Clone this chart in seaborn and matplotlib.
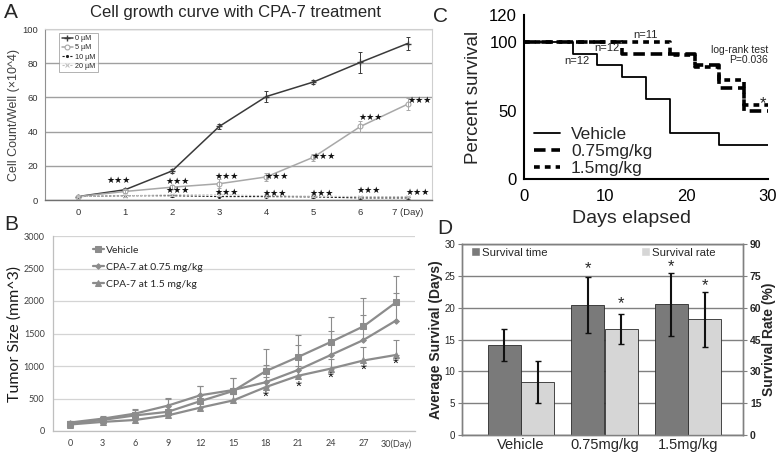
import matplotlib
matplotlib.use("Agg")
import matplotlib.pyplot as plt
import seaborn as sns
from matplotlib.patches import Patch

# ---------------- data ----------------
# A: cell growth (x10^4 cells / well)
days_a = [0, 1, 2, 3, 4, 5, 6, 7]
day_labels_a = ["0", "1", "2", "3", "4", "5", "6", "7 (Day)"]
dose_labels = ["0 µM", "5 µM", "10 µM", "20 µM"]
count_0 = [2, 6, 17, 43, 60.5, 69, 80.5, 91.5]
count_5 = [2, 5, 7.5, 9.5, 13.5, 25, 43, 56]
count_10 = [2, 2.5, 2.5, 2, 2, 1.8, 1.2, 1.2]
count_20 = [2, 2.5, 3, 3, 2.5, 2.2, 2, 2]
err_0 = [0.5, 0.8, 1, 1.5, 3, 1, 6, 4]
err_5 = [0.5, 0.8, 1, 2.5, 2.5, 2, 3, 3.5]
err_10 = [0.3, 0.5, 0.5, 0.5, 0.5, 0.5, 0.5, 0.5]
err_20 = [0.3, 0.5, 0.5, 0.5, 0.5, 0.5, 0.5, 0.5]
# significance marks (day, height)
sig_a_x = [0.87, 2.12, 3.16, 4.22, 5.22, 6.22, 7.26, 2.12, 3.16, 4.18, 5.18, 6.18, 7.22]
sig_a_y = [11.7, 11, 14, 14, 25.7, 48, 58.5, 5.3, 4.7, 4, 4, 5.3, 4.7]

# B: tumor size (mm^3)
days_b = [0, 3, 6, 9, 12, 15, 18, 21, 24, 27, 30]
day_labels_b = ["0", "3", "6", "9", "12", "15", "18", "21", "24", "27", "30(Day)"]
group_b = ["Vehicle", "CPA-7 at 0.75 mg/kg", "CPA-7 at 1.5 mg/kg"]
size_veh = [110, 170, 240, 295, 460, 615, 920, 1140, 1370, 1610, 1980]
size_075 = [130, 190, 268, 390, 550, 630, 750, 940, 1170, 1400, 1700]
size_15 = [100, 140, 170, 240, 360, 470, 675, 850, 960, 1085, 1170]
up_veh = [40, 40, 80, 200, 230, 200, 345, 340, 385, 440, 410]
up_075 = [30, 40, 70, 120, 140, 190, 270, 380, 370, 380, 420]
up_15 = [20, 30, 40, 60, 80, 100, 150, 150, 150, 200, 230]
sig_b_x = [18, 21, 24, 27, 30]
sig_b_y = [520, 675, 820, 945, 1040]

# C: Kaplan-Meier survival (%)
km_veh_t = [0, 6, 9, 12, 15, 18, 24, 30]
km_veh_s = [100, 91.7, 83.3, 75, 58.3, 33.3, 25, 25]
km_075_t = [0, 12, 21, 24, 27, 30]
km_075_s = [100, 91.7, 83.3, 66.7, 50, 50]
km_15_t = [0, 18, 21, 24, 27, 30]
km_15_s = [100, 90.9, 81.8, 72.7, 54.5, 54.5]
km_labels = ["Vehicle", "0.75mg/kg", "1.5mg/kg"]

# D: survival summary
groups_d = ["Vehicle", "0.75mg/kg", "1.5mg/kg"]
surv_time = [14.2, 20.4, 20.5]
surv_time_err = [2.5, 4.4, 4.9]
surv_rate = [25, 50, 54.5]
surv_rate_err = [10, 7, 13]

# ---------------- figure ----------------
sns.set_style("white")
plt.rcParams["font.family"] = ["Liberation Sans", "DejaVu Sans"]

W, H = 778, 453
fig = plt.figure(figsize=(W / 100, H / 100), dpi=100)


def box(l, t, r, b):
    return [l / W, 1 - b / H, (r - l) / W, (b - t) / H]


def fx(x):
    return x / W


def fy(y):
    return 1 - y / H


axA = fig.add_axes(box(45, 29, 432, 200))
axB = fig.add_axes(box(53, 236, 415, 431))
axC = fig.add_axes(box(524, 15, 768, 179))
axD = fig.add_axes(box(462, 244, 743, 435))

# ---------------- panel A ----------------
series_a = [count_0, count_5, count_10, count_20]
errs_a = [err_0, err_5, err_10, err_20]
styles_a = [
    dict(color="#3a3a3a", marker="+", markersize=4, markeredgewidth=1,
         markeredgecolor="#3a3a3a", linestyle="-", linewidth=1.1),
    dict(color="#a8a8a8", marker="o", markersize=3.5, markerfacecolor="white",
         markeredgecolor="#a8a8a8", markeredgewidth=0.8, linestyle="-", linewidth=1.1),
    dict(color="#202020", marker=".", markersize=3, markeredgecolor="#202020",
         linestyle=(0, (2, 1.5)), linewidth=0.8),
    dict(color="#c0c0c0", marker="x", markersize=3, markeredgecolor="#c0c0c0",
         markeredgewidth=0.7, linestyle=(0, (2, 1.5)), linewidth=0.8),
]
handles_a = []
for vals, err, st, lab in zip(series_a, errs_a, styles_a, dose_labels):
    sns.lineplot(x=days_a, y=vals, ax=axA, estimator=None, **st)
    handles_a.append(axA.get_lines()[-1])
    axA.errorbar(days_a, vals, yerr=err, fmt="none", ecolor=st["color"],
                 elinewidth=0.7, capsize=1.5, capthick=0.7)
for x, y in zip(sig_a_x, sig_a_y):
    axA.text(x, y, "★★★", fontsize=6.5, ha="center", va="center",
             family=["DejaVu Sans"], color="#111111")
axA.set_xlim(-0.7, 7.52)
axA.set_ylim(0, 100)
axA.set_yticks(range(0, 101, 20))
axA.set_xticks(days_a, day_labels_a)
axA.grid(axis="y", color="#a0a0a0", linewidth=1)
axA.grid(axis="x", visible=False)
axA.tick_params(axis="both", labelsize=6.8, colors="#333333")
axA.tick_params(axis="y", length=3, width=0.6, color="#888888", pad=2)
axA.tick_params(axis="x", length=0, pad=6)
for s in ["top", "right"]:
    axA.spines[s].set_color("#cfcfcf")
    axA.spines[s].set_linewidth(0.8)
axA.spines["left"].set_color("#909090")
axA.spines["left"].set_linewidth(0.8)
axA.spines["bottom"].set_color("#707070")
axA.spines["bottom"].set_linewidth(1)
axA.set_ylabel("Cell Count/Well (×10^4)", fontsize=9, color="#404040")
axA.yaxis.set_label_coords((20 - 45) / 387, 0.5)
leg = axA.legend(handles_a, dose_labels, loc="upper left",
                 bbox_to_anchor=(0.028, 1.0), fontsize=5.2, frameon=True,
                 fancybox=False, edgecolor="#909090", handlelength=1.5,
                 handletextpad=0.3, labelspacing=0.3, borderpad=0.35)
leg.get_frame().set_linewidth(0.6)
fig.text(fx(235), fy(13), "Cell growth curve with CPA-7 treatment",
         fontsize=12, ha="center", va="center")
fig.text(fx(11), fy(12), "A", fontsize=15, ha="center", va="center")

# ---------------- panel B ----------------
grey_b = "#8c8c8c"
series_b = [size_veh, size_075, size_15]
ups_b = [up_veh, up_075, up_15]
markers_b = [("s", 4.5), ("D", 2.8), ("^", 4)]
handles_b = []
for vals, up, (mk, ms), lab in zip(series_b, ups_b, markers_b, group_b):
    sns.lineplot(x=days_b, y=vals, ax=axB, estimator=None, color=grey_b,
                 marker=mk, markersize=ms, markeredgecolor=grey_b,
                 markerfacecolor=grey_b, linewidth=1.6)
    handles_b.append(axB.get_lines()[-1])
    axB.errorbar(days_b, vals, yerr=[[0] * len(up), up], fmt="none",
                 ecolor=grey_b, elinewidth=0.8, capsize=2, capthick=0.8)
for x, y in zip(sig_b_x, sig_b_y):
    axB.text(x, y, "*", fontsize=11, ha="center", va="center", color="#111111")
axB.set_xlim(-1.56, 31.74)
axB.set_ylim(0, 3000)
axB.set_yticks(range(0, 3001, 500))
axB.set_xticks(days_b, day_labels_b)
axB.set_xticks([d + 1.5 for d in days_b[:-1]], minor=True)
axB.grid(axis="y", color="#d4d4d4", linewidth=0.9)
axB.grid(axis="x", visible=False)
for lab in axB.get_xticklabels() + axB.get_yticklabels():
    lab.set_family("Lato")
axB.tick_params(axis="both", labelsize=6.5, colors="#404040")
axB.tick_params(axis="y", length=3, width=0.7, color="#bfbfbf", pad=3)
axB.tick_params(axis="x", which="major", length=0, pad=6)
axB.tick_params(axis="x", which="minor", length=3, width=0.7, color="#bfbfbf")
sns.despine(ax=axB)
for s in ["left", "bottom"]:
    axB.spines[s].set_color("#bfbfbf")
    axB.spines[s].set_linewidth(0.9)
axB.set_ylabel("Tumor Size (mm^3)", fontsize=11.5, family="Lato", color="#1a1a1a")
axB.yaxis.set_label_coords((22 - 53) / 362, 0.5)
axB.legend(handles_b, group_b, loc="upper left", bbox_to_anchor=(0.085, 1.0),
           frameon=False, handlelength=1.0, handletextpad=0.2,
           labelspacing=0.75, prop={"family": "Lato", "size": 7.5})
fig.text(fx(11), fy(224), "B", fontsize=15, ha="center", va="center")

# ---------------- panel C ----------------
km_t = [km_veh_t, km_075_t, km_15_t]
km_s = [km_veh_s, km_075_s, km_15_s]
km_styles = [
    dict(linestyle="-", linewidth=1.3),
    dict(linestyle=(0, (3.2, 1.6)), linewidth=2.6),
    dict(linestyle=(0, (1.6, 1.4)), linewidth=2.6),
]
handles_c = []
for t, s, st in zip(km_t, km_s, km_styles):
    sns.lineplot(x=t, y=s, ax=axC, estimator=None, color="black",
                 drawstyle="steps-post", **st)
    handles_c.append(axC.get_lines()[-1])
axC.set_xlim(0, 30)
axC.set_ylim(0, 120)
axC.set_xticks([0, 10, 20, 30])
axC.set_yticks([0, 50, 100, 120])
sns.despine(ax=axC)
for s in ["left", "bottom"]:
    axC.spines[s].set_linewidth(1.5)
    axC.spines[s].set_color("black")
axC.tick_params(axis="both", labelsize=12, length=4, width=1.5, colors="black",
                direction="out", pad=1)
axC.tick_params(axis="x", pad=3)
axC.set_xlabel("Days elapsed", fontsize=14)
axC.set_ylabel("Percent survival", fontsize=13.5)
axC.xaxis.set_label_coords((632 - 524) / 244, -(210 - 179) / 164)
axC.yaxis.set_label_coords((482 - 524) / 244, 0.5)
axC.text(6.5, 86, "n=12", fontsize=8, ha="center", va="center")
axC.text(10.2, 95.5, "n=12", fontsize=8, ha="center", va="center")
axC.text(14.9, 105, "n=11", fontsize=8, ha="center", va="center")
axC.text(30, 91, "log-rank test\nP=0.036", fontsize=7.5, ha="right",
         va="center", linespacing=1.0)
axC.text(29.4, 55.5, "*", fontsize=12, ha="center", va="center")
axC.legend(handles_c, km_labels, loc="lower left", bbox_to_anchor=(0.0, -0.045),
           frameon=False, fontsize=12.5, handlelength=1.5, handletextpad=0.6,
           labelspacing=0.1, borderpad=0.1)
fig.text(fx(440), fy(17), "C", fontsize=15, ha="center", va="center")

# ---------------- panel D ----------------
xd = list(range(len(groups_d)))
dark, light = "#7a7a7a", "#d6d6d6"
axD.set_axisbelow(True)
axD.bar([x - 0.2 for x in xd], surv_time, width=0.395, color=dark,
        edgecolor="#2a2a2a", linewidth=0.6, zorder=2)
axD.errorbar([x - 0.2 for x in xd], surv_time, yerr=surv_time_err, fmt="none",
             ecolor="#111111", elinewidth=1.5, capsize=2, capthick=1, zorder=3)
axD2 = axD.twinx()
axD2.bar([x + 0.2 for x in xd], surv_rate, width=0.395, color=light,
         edgecolor="#2a2a2a", linewidth=0.6, zorder=2)
axD2.errorbar([x + 0.2 for x in xd], surv_rate, yerr=surv_rate_err, fmt="none",
              ecolor="#111111", elinewidth=1.5, capsize=2, capthick=1, zorder=3)
axD.set_xlim(-0.707, 2.659)
axD.set_ylim(0, 30)
axD2.set_ylim(0, 90)
axD.set_yticks(range(0, 31, 5))
axD2.set_yticks(range(0, 91, 15))
axD.set_xticks(xd, groups_d)
axD.grid(axis="y", color="#808080", linewidth=1)
axD.grid(axis="x", visible=False)
axD2.grid(False)
for a in (axD, axD2):
    for s in a.spines.values():
        s.set_color("#808080")
        s.set_linewidth(1)
axD.tick_params(axis="y", labelsize=7, length=3, width=0.8, color="#808080", pad=2)
axD.tick_params(axis="x", labelsize=10.5, length=0, pad=2)
axD2.tick_params(axis="y", labelsize=7.5, length=3, width=0.8, color="#808080",
                 pad=2)
for lab in axD2.get_yticklabels():
    lab.set_fontweight("bold")
axD.set_ylabel("Average Survival (Days)", fontsize=10, fontweight="bold")
axD.yaxis.set_label_coords((443 - 462) / 281, 0.5)
axD2.set_ylabel("Survival Rate (%)", fontsize=10, fontweight="bold")
axD2.yaxis.set_label_coords((762 - 462) / 281, 0.5)
for x, y in zip([-0.2 + 1, -0.2 + 2], [26.1, 26.4]):
    axD.text(x, y, "*", fontsize=12, ha="center", va="center")
for x, y in zip([0.2 + 1, 0.2 + 2], [62, 70.2]):
    axD2.text(x, y, "*", fontsize=12, ha="center", va="center")
axD2.legend([Patch(facecolor=dark), Patch(facecolor=light)],
            ["Survival time", "Survival rate"], loc="upper left",
            bbox_to_anchor=(0.005, 1.025), ncol=2, frameon=False, fontsize=8.2,
            handlelength=0.8, handleheight=0.8, handletextpad=0.15,
            columnspacing=8.2, borderpad=0.2)
fig.text(fx(445), fy(228), "D", fontsize=15, ha="center", va="center")

fig.savefig("out.png", dpi=100)
